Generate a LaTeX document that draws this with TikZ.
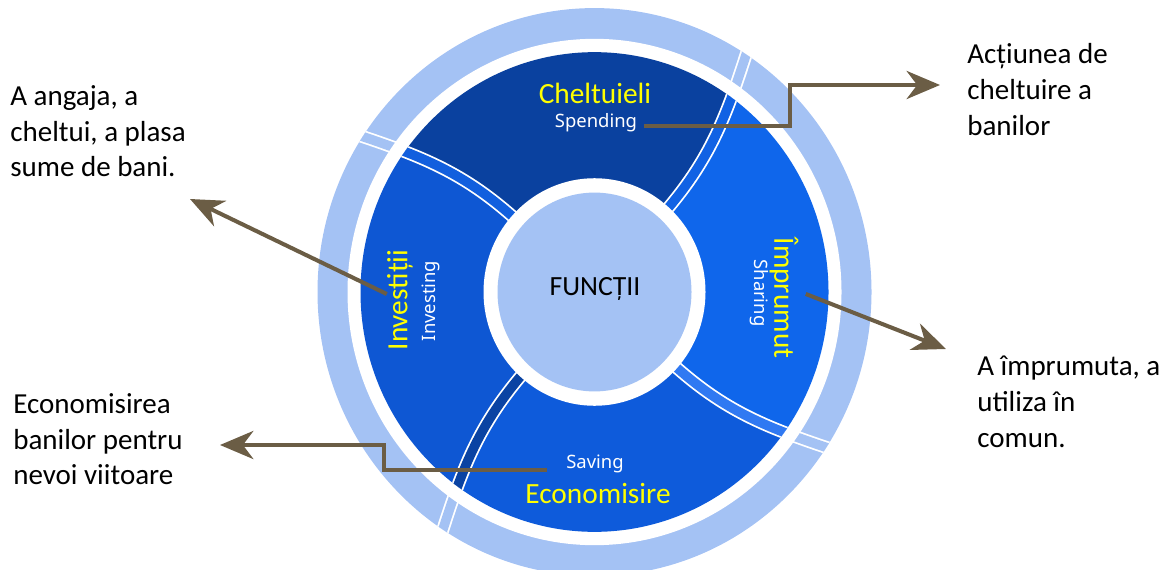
\documentclass[tikz,border=0pt]{standalone}
\usepackage{fontspec}
\setmainfont{Carlito}
\newfontfamily\subfont{Noto Sans}
\usetikzlibrary{arrows.meta}
\definecolor{ringlight}{HTML}{A4C2F4}
\definecolor{chelt}{HTML}{0A419F}
\definecolor{inv}{HTML}{0E57D3}
\definecolor{impr}{HTML}{0F66EB}
\definecolor{econ}{HTML}{0E5BDB}
\definecolor{bandtr}{HTML}{1162E4}
\definecolor{bandtl}{HTML}{125FDE}
\definecolor{bandbl}{HTML}{0A43A3}
\definecolor{bandbr}{HTML}{3079F2}
\definecolor{arrowc}{HTML}{6B5D45}
\definecolor{labelyellow}{HTML}{FFFF00}
\newcommand{\ringpart}[2]{%
  \pgfmathsetmacro\rpA{48+#1}\pgfmathsetmacro\rpB{57.5+#1}\pgfmathsetmacro\rpC{252+#1}%
  \pgfmathsetmacro\rpD{147.5+#1}\pgfmathsetmacro\rpE{138+#1}\pgfmathsetmacro\rpF{342+#1}%
  \fill[#2] (\rpA:100) to[out=\rpA,in=\rpC] (\rpB:290) arc[start angle=\rpB,end angle=\rpD,radius=290]
    to[out=\rpF,in=\rpE] (\rpE:100) arc[start angle=\rpE,end angle=\rpA,radius=100] -- cycle;}
\newcommand{\sepband}[2]{%
  \pgfmathsetmacro\sbA{48+#1}\pgfmathsetmacro\sbB{57.5+#1}\pgfmathsetmacro\sbC{252+#1}%
  \draw[white, line width=7.4pt] (\sbA:100) to[out=\sbA,in=\sbC] (\sbB:290);
  \draw[#2, line width=5.4pt] (\sbA:100) to[out=\sbA,in=\sbC] (\sbB:290);}
\tikzset{
  arr/.style={draw=arrowc, line width=2.3pt, -{Stealth[length=19pt,width=16pt,inset=6pt]}},
  lbl/.style={text=labelyellow, inner sep=0pt, font=\fontsize{16.7}{20}\selectfont},
  sublbl/.style={text=white, inner sep=0pt, font=\subfont\fontsize{10.5}{12}\selectfont},
  desc/.style={align=left, anchor=north west, inner sep=0pt, font=\fontsize{16.5}{20.4}\selectfont}
}

\begin{document}
\begin{tikzpicture}[x=0.02cm,y=0.02cm]
\clip (0,0) rectangle (1165,569);
\begin{scope}[shift={(594.5,277)},yscale=1.025]
  \fill[ringlight] (0,0) circle (277);
  \begin{scope}
    \clip (0,0) circle (277);
    \sepband{0}{ringlight}
    \sepband{90}{ringlight}
    \sepband{180}{ringlight}
    \sepband{270}{ringlight}
  \end{scope}
  \fill[white] (0,0) circle (247);
  \begin{scope}
    \clip (0,0) circle (234);
    \ringpart{0}{chelt}
    \ringpart{90}{inv}
    \ringpart{180}{econ}
    \ringpart{270}{impr}
    \sepband{0}{bandtr}
    \sepband{90}{bandtl}
    \sepband{180}{bandbl}
    \sepband{270}{bandbr}
  \end{scope}
  \fill[white] (0,0) circle (111);
  \fill[ringlight] (0,0) circle (97);
\end{scope}

\node[lbl] (chelt) at (595,476) {Cheltuieli};
\node[sublbl] (spend) at (596,446) {Spending};
\node[lbl, rotate=90] (inv) at (400,269) {Investiții};
\node[sublbl, rotate=90] (investing) at (431,268) {Investing};
\node[lbl, rotate=-90] (impr) at (784,271) {Împrumut};
\node[sublbl, rotate=-90] (sharing) at (759,276) {Sharing};
\node[sublbl] (saving) at (595,105) {Saving};
\node[lbl] (econ) at (598,75) {Economisire};
\node[inner sep=0pt, font=\fontsize{15.8}{19}\selectfont] (func) at (595,280) {FUNCȚII};

\node[desc] (angaja) at (10,484) {A angaja, a\\cheltui, a plasa\\sume de bani.};
\node[desc] (actiunea) at (967,526) {Acțiunea de\\cheltuire a\\banilor};
\node[desc] (imprumuta) at (977,213) {A împrumuta, a\\utiliza în\\comun.};
\node[desc] (economis) at (13,176) {Economisirea\\banilor pentru\\nevoi viitoare};

\coordinate (kneeA) at (790,484);
\coordinate (tipA) at (940,484);
\coordinate (tipB) at (190,370);
\coordinate (tipC) at (946,220);
\coordinate (kneeD) at (384,124);
\coordinate (tipD) at (220,124);

\draw[arr] ([xshift=4pt,yshift=-1.7pt]spend.east) -| (kneeA) -- (tipA);
\draw[arr] ([yshift=3.4pt]inv.north) -- (tipB);
\draw[arr] ([xshift=4pt,yshift=2.3pt]impr.north) -- (tipC);
\draw[arr] ([xshift=-10.8pt,yshift=-3.6pt]saving.west) -| (kneeD) -- (tipD);
\end{tikzpicture}
\end{document}
